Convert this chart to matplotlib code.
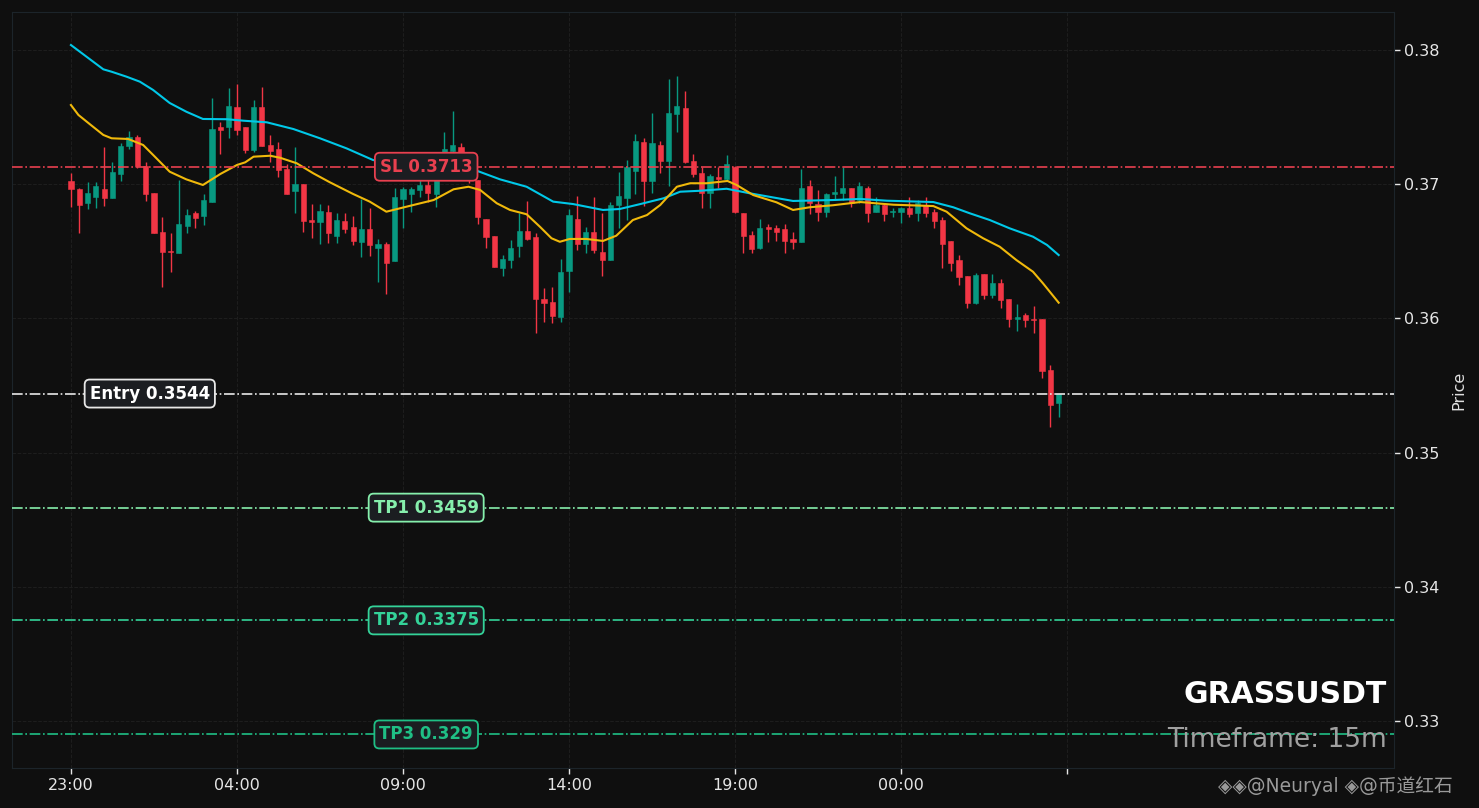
import matplotlib
matplotlib.use("Agg")
import matplotlib.pyplot as plt
import numpy as np

# ---------------- data ----------------
opens = [0.37024,0.36964,0.36862,0.36907,0.36964,0.36899,0.37078,0.37285,0.37352,0.37138,
         0.36932,0.36642,0.36502,0.36489,0.36691,0.36783,0.36765,0.36870,0.37426,0.37428,
         0.37575,0.37426,0.37255,0.37575,0.37290,0.37262,0.37113,0.36951,0.37001,0.36733,
         0.36720,0.36795,0.36616,0.36726,0.36681,0.36569,0.36666,0.36527,0.36554,0.36430,
         0.36892,0.36927,0.36957,0.36994,0.36927,0.37226,0.37250,0.37275,0.37121,0.37031,
         0.36741,0.36614,0.36378,0.36435,0.36542,0.36651,0.36609,0.36145,0.36122,0.36008,
         0.36353,0.36741,0.36554,0.36642,0.36495,0.36435,0.36845,0.36899,0.37101,0.37314,
         0.37024,0.37292,0.37175,0.37525,0.37568,0.37173,0.37081,0.36937,0.37051,0.37039,
         0.37130,0.36783,0.36621,0.36527,0.36683,0.36676,0.36666,0.36592,0.36571,0.36987,
         0.36852,0.36793,0.36929,0.36937,0.36969,0.36882,0.36969,0.36793,0.36845,0.36791,
         0.36793,0.36820,0.36788,0.36845,0.36791,0.36733,0.36577,0.36435,0.36316,0.36117,
         0.36331,0.36174,0.36262,0.36145,0.35998,0.36023,0.35998,0.35995,0.35615,0.35372]
highs = [0.37081,0.36969,0.37019,0.37014,0.37275,0.37163,0.37305,0.37396,0.37367,0.37163,
         0.36935,0.36753,0.36634,0.37031,0.36813,0.36800,0.36925,0.37640,0.37466,0.37715,
         0.37744,0.37428,0.37627,0.37727,0.37364,0.37317,0.37148,0.37275,0.37004,0.36850,
         0.36850,0.36845,0.36783,0.36783,0.36763,0.36890,0.36825,0.36592,0.36571,0.36969,
         0.36977,0.36977,0.37056,0.37031,0.37069,0.37391,0.37542,0.37305,0.37158,0.37034,
         0.36744,0.36617,0.36472,0.36584,0.36783,0.36875,0.36634,0.36224,0.36236,0.36440,
         0.36813,0.36912,0.36679,0.36907,0.36783,0.36870,0.37089,0.37180,0.37372,0.37342,
         0.37528,0.37322,0.37782,0.37806,0.37694,0.37225,0.37130,0.37074,0.37130,0.37218,
         0.37133,0.36786,0.36651,0.36741,0.36701,0.36696,0.36703,0.36646,0.37111,0.37031,
         0.36957,0.36937,0.37061,0.37130,0.36972,0.37016,0.36987,0.36907,0.36858,0.36820,
         0.36828,0.36902,0.36882,0.36902,0.36813,0.36758,0.36580,0.36472,0.36319,0.36340,
         0.36334,0.36334,0.36291,0.36148,0.36107,0.36042,0.36092,0.35998,0.35653,0.35440]
lows = [0.36832,0.36634,0.36813,0.36820,0.36840,0.36895,0.37024,0.37260,0.37118,0.36877,
        0.36635,0.36236,0.36348,0.36486,0.36634,0.36671,0.36694,0.36867,0.37223,0.37342,
        0.37367,0.37230,0.37242,0.37282,0.37168,0.37056,0.36924,0.36783,0.36646,0.36601,
        0.36552,0.36560,0.36560,0.36639,0.36549,0.36460,0.36467,0.36269,0.36179,0.36427,
        0.36676,0.36795,0.36907,0.36870,0.36832,0.37106,0.37180,0.37143,0.37009,0.36703,
        0.36522,0.36382,0.36316,0.36373,0.36455,0.36587,0.35889,0.35975,0.35963,0.35975,
        0.36194,0.36510,0.36485,0.36485,0.36318,0.36432,0.36671,0.36733,0.36925,0.36837,
        0.36937,0.37086,0.36989,0.37391,0.37160,0.37056,0.36820,0.36820,0.36969,0.37031,
        0.36788,0.36485,0.36490,0.36515,0.36571,0.36579,0.36490,0.36519,0.36568,0.36778,
        0.36728,0.36758,0.36882,0.36882,0.36832,0.36858,0.36720,0.36790,0.36728,0.36753,
        0.36709,0.36758,0.36728,0.36758,0.36671,0.36373,0.36355,0.36251,0.36075,0.36105,
        0.36142,0.36150,0.36075,0.35934,0.35908,0.35934,0.35889,0.35553,0.35188,0.35263]
closes = [0.36962,0.36847,0.36932,0.36987,0.36899,0.37091,0.37282,0.37349,0.37138,0.36929,
          0.36639,0.36497,0.36497,0.36703,0.36770,0.36750,0.36882,0.37411,0.37406,0.37583,
          0.37404,0.37255,0.37575,0.37285,0.37247,0.37106,0.36927,0.37001,0.36726,0.36720,
          0.36800,0.36636,0.36733,0.36668,0.36579,0.36666,0.36549,0.36554,0.36415,0.36907,
          0.36962,0.36962,0.36994,0.36937,0.37056,0.37260,0.37292,0.37195,0.37031,0.36753,
          0.36609,0.36385,0.36440,0.36522,0.36651,0.36589,0.36145,0.36117,0.36018,0.36348,
          0.36770,0.36554,0.36642,0.36510,0.36435,0.36845,0.36912,0.37130,0.37322,0.37024,
          0.37307,0.37175,0.37530,0.37583,0.37165,0.37076,0.36937,0.37061,0.37039,0.37148,
          0.36791,0.36616,0.36519,0.36671,0.36668,0.36644,0.36579,0.36571,0.36969,0.36862,
          0.36795,0.36927,0.36944,0.36969,0.36858,0.36987,0.36788,0.36845,0.36778,0.36802,
          0.36820,0.36778,0.36858,0.36788,0.36728,0.36557,0.36415,0.36311,0.36117,0.36323,
          0.36174,0.36262,0.36137,0.35998,0.36010,0.35988,0.35988,0.35610,0.35355,0.35437]

# slow moving average (cyan) read at candle positions
ma_slow_x = [0,3.9,4.9,6.7,8.3,9.9,11.9,13.9,15.9,18.8,20.8,23.6,26.8,30.0,33.2,36.4,42.0,45.7,
             49.0,51.7,54.9,58.1,60.5,64.1,66.1,68.6,71.4,73.4,75.8,79.0,81.8,87.0,91.8,95.1,
             98.3,103.9,106.3,108.3,110.7,113.1,115.9,117.6,119.0]
ma_slow = [0.38037,0.37856,0.37838,0.37801,0.37764,0.37702,0.37605,0.37540,0.37486,0.37484,
           0.37473,0.37461,0.37411,0.37342,0.37267,0.37180,0.37136,0.37113,0.37098,0.37036,
           0.36981,0.36870,0.36852,0.36808,0.36815,0.36852,0.36895,0.36944,0.36951,0.36966,
           0.36932,0.36875,0.36882,0.36890,0.36877,0.36867,0.36828,0.36783,0.36733,0.36671,
           0.36609,0.36547,0.36472]
# fast moving average (yellow)
ma_fast_x = [0,0.9,2.3,3.9,4.9,6.9,8.7,9.9,11.9,13.9,15.9,18.0,20.0,21.0,22.0,24.0,25.2,27.2,
             29.2,31.2,34.0,36.0,38.0,40.4,43.7,46.1,47.9,49.3,51.3,52.9,54.9,56.5,57.9,58.9,
             60.1,62.1,64.1,65.7,67.7,69.4,71.0,73.0,74.6,76.6,79.1,80.2,82.2,85.0,87.0,89.0,
             91.8,95.1,99.1,103.9,105.5,107.9,109.9,111.9,113.9,115.9,117.1,119.0]
ma_fast = [0.37590,0.37516,0.37446,0.37367,0.37342,0.37337,0.37292,0.37218,0.37093,0.37036,
           0.36994,0.37076,0.37143,0.37163,0.37205,0.37212,0.37197,0.37156,0.37081,0.37014,
           0.36927,0.36870,0.36795,0.36832,0.36882,0.36962,0.36981,0.36957,0.36858,0.36808,
           0.36776,0.36683,0.36597,0.36571,0.36592,0.36592,0.36577,0.36616,0.36733,0.36770,
           0.36845,0.36981,0.37007,0.37007,0.37024,0.36994,0.36919,0.36865,0.36808,0.36828,
           0.36843,0.36867,0.36847,0.36837,0.36795,0.36671,0.36597,0.36534,0.36435,0.36348,
           0.36262,0.36117]

tick_pos = [0, 20, 40, 60, 80, 100, 120]
tick_labels = ['23:00', '04:00', '09:00', '14:00', '19:00', '00:00', '']

levels = [("SL", 0.3713), ("Entry", 0.3544), ("TP1", 0.3459), ("TP2", 0.3375), ("TP3", 0.329)]
level_text = ["SL 0.3713", "Entry 0.3544", "TP1 0.3459", "TP2 0.3375", "TP3 0.329"]

symbol = "GRASSUSDT"
timeframe = "Timeframe: 15m"
watermark = "◈◈@Neuryal ◈@币道红石"

# ---------------- styles ----------------
BG = '#0f0f0f'
UP = '#089981'
DN = '#f23645'
level_colors = ['#e8404f', '#e8e8e8', '#86efac', '#34d399', '#1fbf85']
level_label_x = [42.8, 9.5, 42.8, 42.8, 42.8]

plt.rcParams['font.family'] = ['DejaVu Sans', 'Noto Sans CJK SC']

fig = plt.figure(figsize=(14.79, 8.08), dpi=100, facecolor=BG)
ax = fig.add_axes([12/1479, 1-768/808, (1394-12)/1479, (768-12)/808])
ax.set_facecolor(BG)

o = np.array(opens); h = np.array(highs); l = np.array(lows); c = np.array(closes)
idx = np.arange(len(o))
up = c >= o
cols = np.where(up, UP, DN)

ax.vlines(idx, l, h, colors=cols, linewidth=1.0, zorder=2)
bottoms = np.minimum(o, c)
heights = np.maximum(np.abs(c - o), 0.00003)
ax.bar(idx, heights, bottom=bottoms, width=0.62, color=cols, edgecolor=cols, linewidth=0.4, zorder=3)

ax.plot(ma_slow_x, ma_slow, color='#00c8e8', linewidth=1.5, zorder=4)
ax.plot(ma_fast_x, ma_fast, color='#f0b90b', linewidth=1.5, zorder=4)

for (name, val), col, txt, lx in zip(levels, level_colors, level_text, level_label_x):
    ax.axhline(val, color=col, linestyle='-.', linewidth=1.2, zorder=5)
    ax.text(lx, val, txt, color=col if name != 'Entry' else '#ffffff', fontsize=12,
            fontweight='bold', ha='center', va='center', zorder=7,
            bbox=dict(boxstyle='round,pad=0.3', facecolor='#1b1d21', edgecolor=col, linewidth=1.3))

ax.set_xlim(-7.1, 159.4)
ax.set_ylim(0.3265, 0.38283)

ax.set_xticks(tick_pos)
ax.set_xticklabels(tick_labels)
ax.set_yticks([0.33, 0.34, 0.35, 0.36, 0.37, 0.38])
ax.set_yticklabels(['0.33', '0.34', '0.35', '0.36', '0.37', '0.38'])
ax.yaxis.tick_right()
ax.yaxis.set_label_position('right')
ax.set_ylabel('Price', color='#e0e0e0', fontsize=11.5, labelpad=8)
ax.tick_params(axis='both', colors='#e6e6e6', labelsize=11.5, length=4, width=1)
ax.grid(True, color='#1e1e1e', linestyle='--', linewidth=0.7, zorder=0)
for s in ax.spines.values():
    s.set_color('#1c242a')
    s.set_linewidth(0.8)

ax.text(0.9949, 0.0856, symbol, transform=ax.transAxes, ha='right', va='baseline',
        color='#ffffff', fontsize=21.5, fontweight='bold', zorder=8)
ax.text(0.9949, 0.0282, timeframe, transform=ax.transAxes, ha='right', va='baseline',
        color='#a0a0a0', fontsize=19, zorder=8)

# watermark
fig.text(1218/1479, 1-792/808, watermark, color='#c8c8c8', alpha=0.75, fontsize=13.5,
         ha='left', va='baseline', family=['DejaVu Sans', 'Noto Sans CJK SC'])

fig.savefig('out.png', dpi=100, facecolor=BG)
